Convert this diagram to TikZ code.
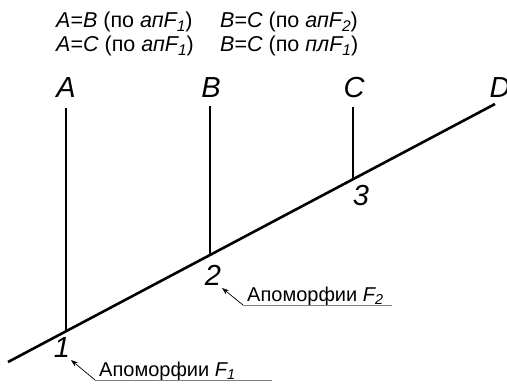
\documentclass[tikz,border=0pt]{standalone}
\usepackage{fontspec}
\setmainfont{Liberation Sans}
\usetikzlibrary{arrows.meta,calc}
\newcommand{\sbi}[1]{\raisebox{-0.35ex}{\itshape\fontsize{0.72em}{1em}\selectfont #1}}
\begin{document}
\begin{tikzpicture}[x=1pt,y=-1pt,
  lbl/.style={font=\itshape\fontsize{29}{29}\selectfont, inner sep=0pt},
  num/.style={font=\itshape\fontsize{29}{29}\selectfont, inner sep=0pt},
  rel/.style={font=\fontsize{21.5}{21.5}\selectfont, inner sep=0pt, anchor=west},
  ann/.style={font=\fontsize{20}{20}\selectfont, inner sep=0pt, anchor=base west},
  trunk/.style={line width=2.6pt},
  branch/.style={line width=1.3pt},
  uline/.style={draw=gray, line width=0.8pt},
  pointer/.style={line width=0.7pt, -{Stealth[length=7pt,width=5pt]}}
]
\useasboundingbox (0,0) rectangle (507,384);
% relations
\node[rel] (r1) at (56,22) {\itshape A\upshape =\itshape B\upshape{} (по \itshape апF\sbi{1}\upshape )};
\node[rel] (r2) at (220,22) {\itshape B\upshape =\itshape C\upshape{} (по \itshape апF\sbi{2}\upshape )};
\node[rel] (r3) at (56,46) {\itshape A\upshape =\itshape C\upshape{} (по \itshape апF\sbi{1}\upshape )};
\node[rel] (r4) at (220,46) {\itshape B\upshape =\itshape C\upshape{} (по \itshape плF\sbi{1}\upshape )};
% taxa labels
\node[lbl] (A) at (66,88) {A};
\node[lbl] (B) at (211,88) {B};
\node[lbl] (C) at (354,88) {C};
\node[lbl] (D) at (500,88) {D};
% trunk
\coordinate (start) at (8,362);
\coordinate (end) at (495,104);
\draw[trunk] (start) -- (end);
% branches
\coordinate (ta) at (66,108);
\coordinate (tb) at (210,106);
\coordinate (tc) at (353,107);
\coordinate (ja) at (66,331);
\coordinate (jb) at (210,255);
\coordinate (jc) at (353,179);
\draw[branch] (ta) -- (ja);
\draw[branch] (tb) -- (jb);
\draw[branch] (tc) -- (jc);
% node numbers
\node[num] (n1) at (62,348) {1};
\node[num] (n2) at (213,275) {2};
\node[num] (n3) at (361,196) {3};
% annotations
\node[ann] (a2) at (247,301) {Апоморфии \itshape F\sbi{2}};
\coordinate (c2) at (243,305);
\coordinate (e2) at (392,305);
\coordinate (t2) at (222,288);
\draw[uline] (c2) -- (e2);
\draw[pointer] (c2) -- (t2);
\node[ann] (a1) at (99,376) {Апоморфии \itshape F\sbi{1}};
\coordinate (c1) at (95,380);
\coordinate (e1) at (272,380);
\coordinate (t1) at (71,360);
\draw[uline] (c1) -- (e1);
\draw[pointer] (c1) -- (t1);
\end{tikzpicture}
\end{document}
